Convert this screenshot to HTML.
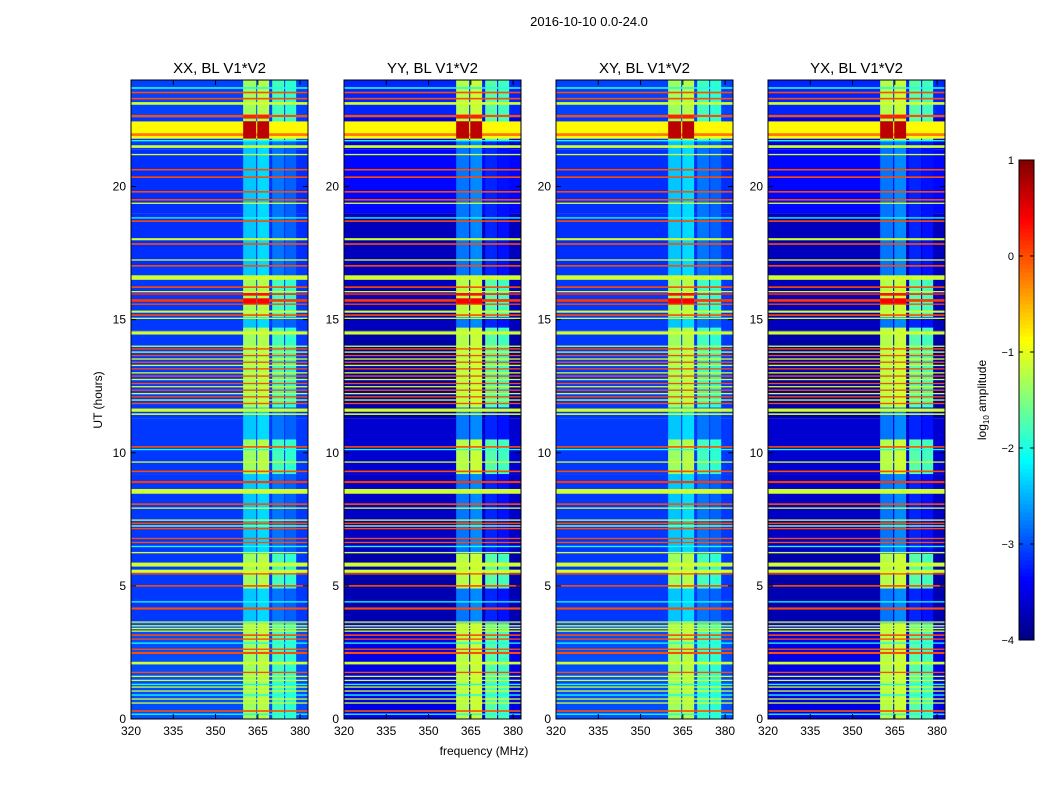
<!DOCTYPE html>
<html><head><meta charset="utf-8"><style>
body{margin:0;background:#fff;}
svg text{font-family:"Liberation Sans",sans-serif;}
</style></head><body>
<svg id="fig" width="1050" height="800" viewBox="0 0 1050 800">
<text x="589" y="26" font-size="13" text-anchor="middle">2016-10-10 0.0-24.0</text>
<text x="484" y="755" font-size="12" text-anchor="middle">frequency (MHz)</text>
<text transform="translate(102,400) rotate(-90)" font-size="12" text-anchor="middle">UT (hours)</text>
<text transform="translate(986,400) rotate(-90)" font-size="12" text-anchor="middle">log<tspan font-size="8" dy="3">10</tspan><tspan dy="-3"> amplitude</tspan></text>
</svg>
<script>
// ---- data ----
const panelTitles = ["XX, BL V1*V2","YY, BL V1*V2","XY, BL V1*V2","YX, BL V1*V2"];
const panelKind = [0,1,0,1]; // 0 = brighter background, 1 = dark background
const xTicks = [320,335,350,365,380];
const yTicks = [0,5,10,15,20];
const cbTicks = [1,0,-1,-2,-3,-4];
// background segments [startHour,endHour] with values per kind
const bgStart = [0,3.6,4.9,6.2,9.2,11.3,14.6,17.0,19.0,21.4,22.6];
const bgEnd   = [3.6,4.9,6.2,9.2,11.3,14.6,17.0,19.0,21.4,22.6,24];
const bgValA  = [-3.0,-3.1,-3.1,-3.1,-3.1,-3.1,-3.1,-3.15,-3.15,-3.1,-3.05];
const bgValB  = [-3.5,-3.75,-3.8,-3.65,-3.6,-3.8,-3.7,-3.7,-3.35,-3.55,-3.2];
// frequency columns (MHz)
const colStart = [359.8,364.8,370.1,374.7];
const colEnd   = [364.4,369.0,374.3,378.6];
const colActiveVal = [-1.35,-1.25,-1.8,-1.9];
const colIdleValA  = [-2.4,-2.3,-2.8,-2.9];
const colIdleValB  = [-2.8,-2.7,-3.2,-3.3];
// column active time periods
const actStart = [0,4.9,9.2,11.7,15.1,21.7];
const actEnd   = [3.6,6.2,10.5,14.7,16.6,24];
// strong peaks inside columns 0,1
const peakStart = [15.6,15.9,21.8,22.55];
const peakEnd   = [15.8,16.0,22.45,22.7];
const peakVal   = [0.4,0.3,0.7,0.2];
// horizontal RFI lines: hour centre, thickness (h), value
const lineHour = [23.7,23.53,23.3,23.12,22.65,22.12,21.95,21.72,21.5,21.2,20.63,20.35,19.8,19.5,19.37,18.82,18.7,18.02,17.84,17.24,17.02,16.58,16.22,16.05,15.96,15.72,15.58,15.3,15.17,15.05,14.5,14.0,
13.9,13.78,13.65,13.52,13.4,13.28,13.15,13.0,12.88,12.75,12.6,12.48,12.35,12.22,12.1,11.98,11.85,11.6,11.45,
10.22,10.12,9.65,9.3,8.9,8.55,8.07,7.92,7.47,7.35,7.25,7.15,6.78,6.63,6.48,6.25,5.8,5.55,5.45,5.0,4.4,4.15,3.64,3.5,3.4,3.3,3.15,3.0,2.85,2.62,2.48,2.1,1.75,1.6,1.45,1.3,1.2,1.05,0.9,0.75,0.6,0.3,0.18];
const lineThick = [.06,.06,.06,.1,.08,.65,.1,.05,.1,.05,.06,.06,.06,.06,.05,.05,.06,.08,.06,.05,.06,.17,.06,.05,.06,.1,.05,.08,.06,.05,.12,.05,
.05,.05,.05,.05,.05,.05,.05,.05,.05,.05,.05,.05,.05,.05,.05,.05,.05,.12,.06,
.06,.05,.05,.06,.08,.18,.06,.05,.05,.05,.05,.05,.05,.05,.05,.05,.15,.12,.05,.06,.05,.08,.05,.05,.05,.05,.06,.05,.05,.05,.08,.1,.05,.05,.05,.05,.05,.05,.05,.05,.05,.06,.05];
const lineVal = [-2.0,0,0,-1.1,0,-0.85,-0.2,-2.0,-1.1,-1.1,0,0,0,0,-1.1,-2.0,0,-1.1,0,-1.1,0,-1.1,0,-1.1,0.2,0.1,0,-1.1,0,-1.1,-1.1,-1.1,
0,-1.1,0,-1.1,0,-1.1,0,-1.1,0,-1.1,0,-1.1,0,-1.1,0,-1.1,0,-1.1,-1.1,
0,-2.0,-1.1,0,0.1,-1.1,0,-1.1,-1.1,0,-1.1,0,0,0,-2.0,-1.1,-1.1,-1.1,0,0,-2.0,0,-1.1,-1.1,-1.1,-1.1,0,0,-2.0,0,0,-1.1,0,-1.1,-1.1,-2.0,-1.1,-1.1,-2.0,-1.1,-1.1,0,-2.0];

// ---- scales ----
const panelX = [131,344,556,768], PW = 177, PT = 80, PB = 719;
const FMIN = 320, FMAX = 382.8, HMAX = 24;
const VMIN = -4, VMAX = 1;
function xs(p,f){return panelX[p] + (f-FMIN)/(FMAX-FMIN)*PW;}
function ys(h){return PB - h/HMAX*(PB-PT);}
function jet(v){
  let t=(v-VMIN)/(VMAX-VMIN); t=Math.max(0,Math.min(1,t));
  const c=x=>Math.round(255*Math.max(0,Math.min(1,x)));
  const r=c(1.5-Math.abs(4*t-3)), g=c(1.5-Math.abs(4*t-2)), b=c(1.5-Math.abs(4*t-1));
  return `rgb(${r},${g},${b})`;
}
const NS="http://www.w3.org/2000/svg";
const svg=document.getElementById('fig');
function mk(tag,attrs,parent){const e=document.createElementNS(NS,tag);for(const k in attrs)e.setAttribute(k,attrs[k]);(parent||svg).appendChild(e);return e;}
function cell(g,p,f0,f1,h0,h1,v){
  const y1=ys(h1), y0=ys(h0);
  const r=mk('rect',{x:xs(p,f0),y:y1,width:xs(p,f1)-xs(p,f0),height:Math.max(0.8,y0-y1),fill:jet(v)},g);
  
  
}
for(let p=0;p<4;p++){
  const g=mk('g',{});
  
  
  const kind=panelKind[p];
  for(let i=0;i<bgStart.length;i++) cell(g,p,FMIN,FMAX,bgStart[i],bgEnd[i],kind?bgValB[i]:bgValA[i]);
  for(let c=0;c<colStart.length;c++){
    cell(g,p,colStart[c],colEnd[c],0,HMAX,kind?colIdleValB[c]:colIdleValA[c]);
    for(let a=0;a<actStart.length;a++) cell(g,p,colStart[c],colEnd[c],actStart[a],actEnd[a],colActiveVal[c]+(kind?0.1:0));
  }
  for(let i=0;i<lineHour.length;i++) cell(g,p,FMIN,FMAX,lineHour[i]-lineThick[i]/2,lineHour[i]+lineThick[i]/2,lineVal[i]);
  for(let c=0;c<2;c++) for(let k=0;k<peakStart.length;k++) cell(g,p,colStart[c],colEnd[c],peakStart[k],peakEnd[k],peakVal[k]);
  const fr=mk('rect',{x:panelX[p],y:PT,width:PW,height:PB-PT,fill:'none',stroke:'#000','stroke-width':1});
  
  
  const tt=mk('text',{x:panelX[p]+PW/2,y:73,'font-size':15,'text-anchor':'middle'});
  tt.textContent=panelTitles[p];
  
  
  for(const f of xTicks){
    const x=xs(p,f);
    mk('line',{x1:x,x2:x,y1:PB,y2:PB-5,stroke:'#000'});
    mk('line',{x1:x,x2:x,y1:PT,y2:PT+5,stroke:'#000'});
    const t=mk('text',{x:x,y:PB+16,'font-size':12,'text-anchor':'middle'});
    t.textContent=f;
    
    
  }
  for(const h of yTicks){
    const y=ys(h);
    mk('line',{x1:panelX[p],x2:panelX[p]+5,y1:y,y2:y,stroke:'#000'});
    mk('line',{x1:panelX[p]+PW,x2:panelX[p]+PW-5,y1:y,y2:y,stroke:'#000'});
    const t=mk('text',{x:panelX[p]-5,y:y+4,'font-size':12,'text-anchor':'end'});
    t.textContent=h;
    
    
  }
}
// colorbar
const CBX=1019, CBW=15, CBT=160, CBB=640;
const cb=mk('g',{});


function cby(v){return CBB-(v-VMIN)/(VMAX-VMIN)*(CBB-CBT);}
for(let i=0;i<120;i++){
  const v0=VMIN+i*(VMAX-VMIN)/120, v1=VMIN+(i+1)*(VMAX-VMIN)/120;
  mk('rect',{x:CBX,y:cby(v1),width:CBW,height:cby(v0)-cby(v1)+0.5,fill:jet((v0+v1)/2)},cb);
}
mk('rect',{x:CBX,y:CBT,width:CBW,height:CBB-CBT,fill:'none',stroke:'#000'},cb);
for(const v of cbTicks){
  const y=cby(v);
  mk('line',{x1:CBX,x2:CBX+4,y1:y,y2:y,stroke:'#000'},cb);
  mk('line',{x1:CBX+CBW,x2:CBX+CBW-4,y1:y,y2:y,stroke:'#000'},cb);
  const t=mk('text',{x:CBX-5,y:y+4,'font-size':11,'text-anchor':'end'},cb);
  t.textContent=v<0?'\u2212'+(-v):String(v);
  
  
}
</script>
</body></html>
